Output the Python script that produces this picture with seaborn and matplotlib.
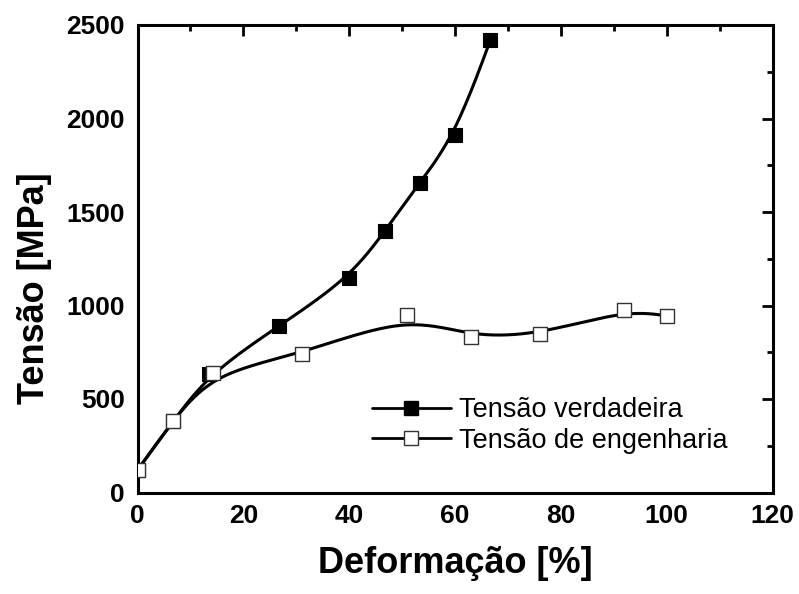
import numpy as np
import pandas as pd
import matplotlib
matplotlib.use("Agg")
import matplotlib.pyplot as plt
from matplotlib.lines import Line2D
from matplotlib.ticker import MultipleLocator
import seaborn as sns

# ---- data ----
true_x = [0, 6.7, 13.5, 26.7, 40.0, 46.8, 53.3, 60.0, 66.7]
true_y = [120, 380, 635, 890, 1145, 1400, 1655, 1910, 2420]
eng_x = [0, 6.7, 14.3, 31.0, 51.0, 63.0, 76.0, 92.0, 100.0]
eng_y = [120, 385, 640, 740, 948, 830, 845, 975, 945]
label_true = "Tensão verdadeira"
label_eng = "Tensão de engenharia"
x_label = "Deformação [%]"
y_label = "Tensão [MPa]"


def bspline(xs, ys, n=60):
    """Clamped uniform cubic B-spline with the data as control points (Origin-style)."""
    px = np.r_[[xs[0]] * 2, xs, [xs[-1]] * 2].astype(float)
    py = np.r_[[ys[0]] * 2, ys, [ys[-1]] * 2].astype(float)
    t = np.linspace(0, 1, n)
    b0 = (1 - t) ** 3 / 6
    b1 = (3 * t**3 - 6 * t**2 + 4) / 6
    b2 = (-3 * t**3 + 3 * t**2 + 3 * t + 1) / 6
    b3 = t**3 / 6
    ox, oy = [], []
    for i in range(len(px) - 3):
        ox.append(b0 * px[i] + b1 * px[i + 1] + b2 * px[i + 2] + b3 * px[i + 3])
        oy.append(b0 * py[i] + b1 * py[i + 1] + b2 * py[i + 2] + b3 * py[i + 3])
    return np.concatenate(ox), np.concatenate(oy)


sns.set_style("white")
plt.rcParams["font.family"] = ["Liberation Sans", "DejaVu Sans"]
plt.rcParams["text.color"] = "black"
plt.rcParams["axes.labelcolor"] = "black"
plt.rcParams["xtick.color"] = "black"
plt.rcParams["ytick.color"] = "black"

fig = plt.figure(figsize=(7.99, 5.94), dpi=100)
ax = fig.add_axes([137.5 / 799, 1 - 492.5 / 594, 635 / 799, 467.5 / 594])

cx, cy = bspline(true_x, true_y)
ex, ey = bspline(eng_x, eng_y)
sns.lineplot(x=cx, y=cy, ax=ax, color="black", lw=2.2, sort=False, estimator=None)
sns.lineplot(x=ex, y=ey, ax=ax, color="black", lw=2.2, sort=False, estimator=None)

df_t = pd.DataFrame({"x": true_x, "y": true_y})
df_e = pd.DataFrame({"x": eng_x, "y": eng_y})
sns.scatterplot(data=df_t, x="x", y="y", ax=ax, marker="s", s=88, color="black",
                edgecolor="black", linewidth=0.8, zorder=3)
sns.scatterplot(data=df_e, x="x", y="y", ax=ax, marker="s", s=88, color="white",
                edgecolor="#333333", linewidth=1.0, zorder=4)

ax.set_xlim(0, 120)
ax.set_ylim(0, 2500)
ax.xaxis.set_major_locator(MultipleLocator(20))
ax.xaxis.set_minor_locator(MultipleLocator(10))
ax.yaxis.set_major_locator(MultipleLocator(500))
ax.yaxis.set_minor_locator(MultipleLocator(250))
ax.tick_params(which="both", direction="in", top=True, right=True, width=2, color="black")
ax.tick_params(which="major", length=8, labelsize=19)
ax.tick_params(which="minor", length=4)
ax.tick_params(axis="x", which="major", pad=8)
ax.tick_params(axis="y", which="major", pad=9)
for lab in ax.get_xticklabels() + ax.get_yticklabels():
    lab.set_fontweight("bold")
for s in ax.spines.values():
    s.set_linewidth(2.2)
    s.set_color("black")

ax.set_xlabel(x_label, fontsize=26, fontweight="bold")
ax.set_ylabel(y_label, fontsize=26, fontweight="bold")
ax.xaxis.set_label_coords(0.5, -0.115)
ax.yaxis.set_label_coords(-0.135, 0.436)

handles = [
    Line2D([], [], color="black", lw=2.0, marker="s", markersize=9.5,
           markerfacecolor="black", markeredgecolor="black"),
    Line2D([], [], color="black", lw=2.0, marker="s", markersize=9.5,
           markerfacecolor="white", markeredgecolor="#333333"),
]
leg = ax.legend(handles, [label_true, label_eng], loc="upper left",
                bbox_to_anchor=((372 - 137.5) / 635, (492.5 - 397) / 467.5),
                frameon=False, fontsize=19.5, handlelength=2.9, handletextpad=0.3,
                labelspacing=0.18, borderpad=0, borderaxespad=0)

fig.savefig("out.png", dpi=100)
